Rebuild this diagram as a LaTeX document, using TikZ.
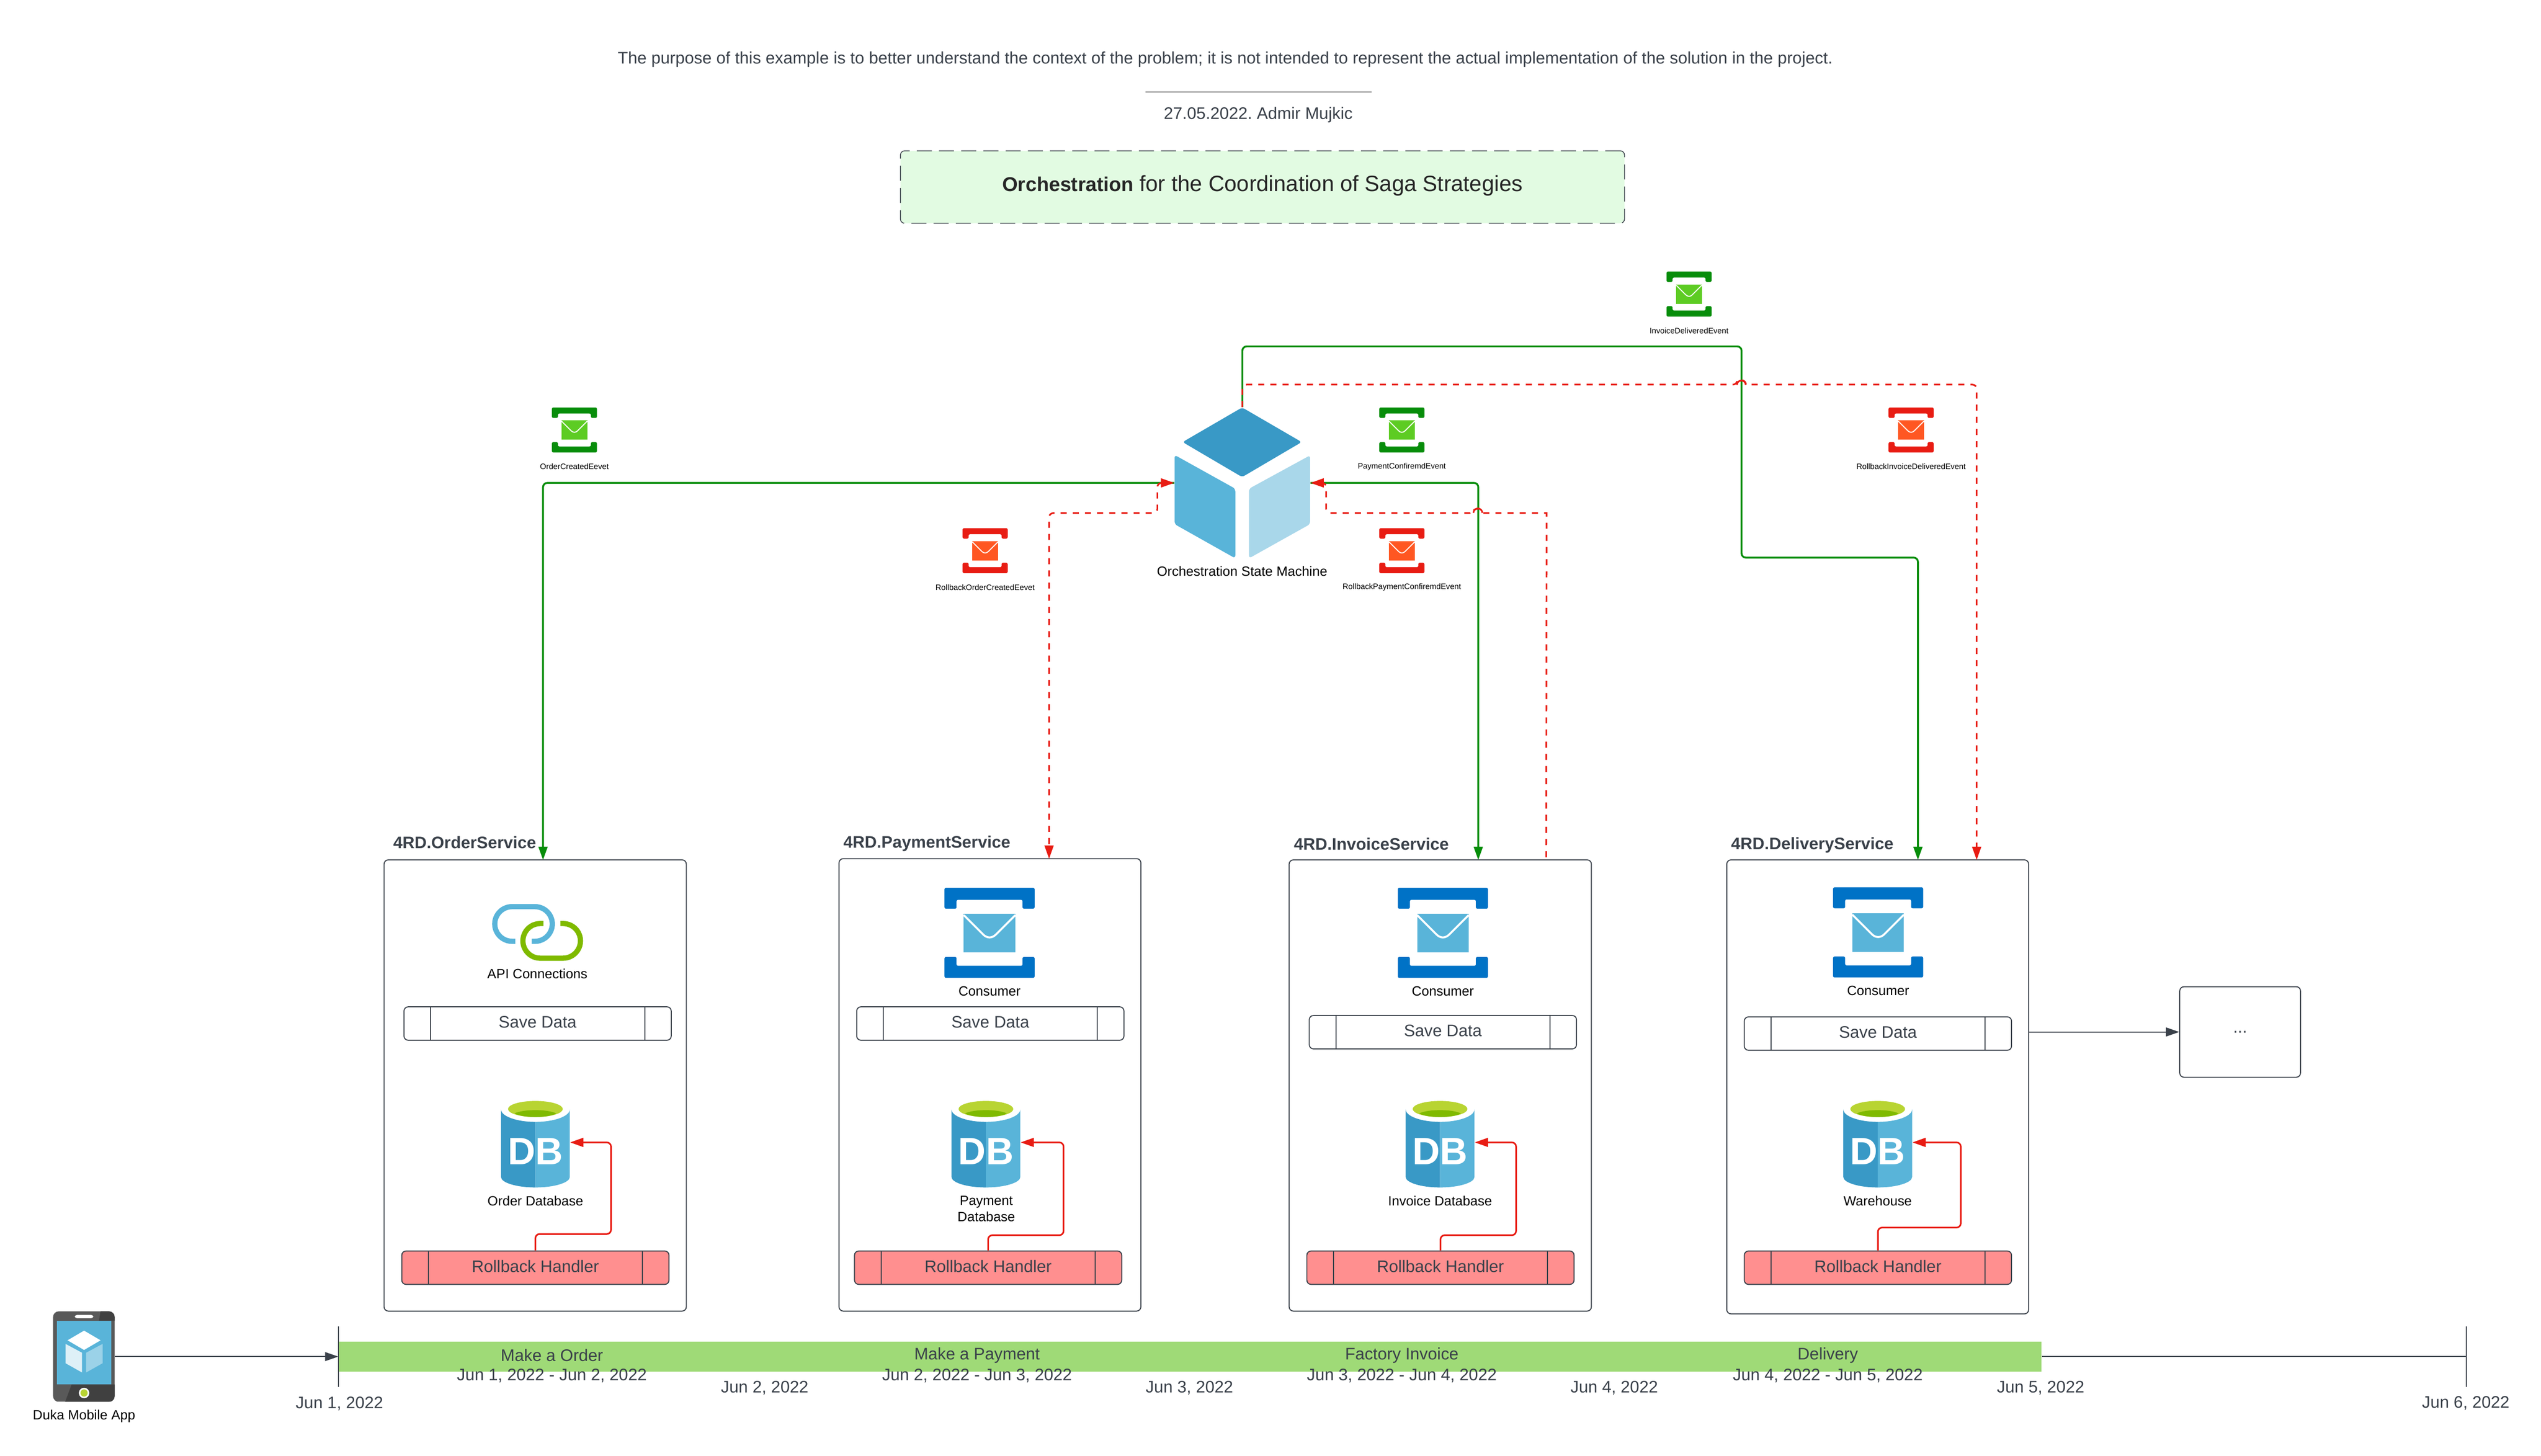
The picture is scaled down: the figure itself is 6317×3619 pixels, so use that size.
\documentclass[tikz,border=0pt]{standalone}
\usepackage{fontspec}
\setmainfont{Liberation Sans}
\usetikzlibrary{arrows.meta}
\frenchspacing
\definecolor{inkdark}{HTML}{3A414A}
\definecolor{flowgreen}{HTML}{078D0A}
\definecolor{flowred}{HTML}{E81C13}
\definecolor{msggreen}{HTML}{5DCC23}
\definecolor{msgorange}{HTML}{FF5722}
\definecolor{msgblue}{HTML}{0072C6}
\definecolor{skyblue}{HTML}{59B4D9}
\definecolor{deepblue}{HTML}{3999C6}
\definecolor{paleblue}{HTML}{A9D7EA}
\definecolor{lime}{HTML}{B8D432}
\definecolor{leaf}{HTML}{7FBA00}
\definecolor{titlefill}{HTML}{E2FBE2}
\definecolor{rollfill}{HTML}{FF8F8F}
\definecolor{barfill}{HTML}{9FDA77}
\tikzset{
    bodytext/.style={inner sep=0pt, text=inkdark, font=\fontsize{11.83}{14}\selectfont},
    headtext/.style={inner sep=0pt, anchor=west, text=inkdark, font=\fontsize{11.8}{14}\selectfont\bfseries},
    iconlabel/.style={inner sep=0pt, align=center, text=black, font=\fontsize{9.5}{11.4}\selectfont},
    eventlabel/.style={inner sep=0pt, text=black, font=\fontsize{5.6}{7}\selectfont},
    svcbox/.style={draw=inkdark, line width=.7pt, rounded corners=3pt},
    stepbox/.style={draw=inkdark, line width=.7pt, rounded corners=3pt, minimum width=6.64cm, minimum height=.83cm,
        inner sep=0pt, text=inkdark, text depth=2pt, font=\fontsize{11.8}{14}\selectfont,
        path picture={
            \draw[inkdark, line width=.7pt] ([xshift=.66cm]path picture bounding box.north west) -- ([xshift=.66cm]path picture bounding box.south west);
            \draw[inkdark, line width=.7pt] ([xshift=-.66cm]path picture bounding box.north east) -- ([xshift=-.66cm]path picture bounding box.south east);
        }},
    rollbox/.style={stepbox, fill=rollfill},
    flowtip/.tip={Triangle[length=9.4pt,width=6.3pt]},
    greenflow/.style={draw=flowgreen, line width=1.3pt, rounded corners=3pt, -flowtip},
    redflow/.style={draw=flowred, line width=1.15pt, rounded corners=3pt, dash pattern=on 4.3pt off 4.3pt},
    hopline/.style={draw=flowred, line width=1.15pt},
    rollflow/.style={draw=flowred, line width=1.15pt, rounded corners=3pt, -flowtip},
    darkflow/.style={draw=inkdark, line width=.75pt, -flowtip},
}
% envelope between two brackets: x, y, scale, bracket colour, envelope colour
\newcommand{\msgicon}[5]{
    \begin{scope}[shift={(#1,#2)},scale=#3]
        \fill[#4, rounded corners=1pt] (-56,-56) -- (56,-56) -- (56,-30) -- (41,-30) -- (41,-41) -- (-41,-41) -- (-41,-30) -- (-56,-30) -- cycle;
        \fill[#4, rounded corners=1pt] (-56,56) -- (56,56) -- (56,30) -- (41,30) -- (41,41) -- (-41,41) -- (-41,30) -- (-56,30) -- cycle;
        \fill[#5] (-32,-24) rectangle (32,24);
        \draw[white, line width=#3*.7pt] (-32,-22) -- (-8,2) .. controls (-3,7) and (3,7) .. (8,2) -- (32,-22);
    \end{scope}
}
% database barrel: node name, centre x
\newcommand{\dbicon}[2]{
    \node[minimum width=1.71cm, minimum height=2.15cm, inner sep=0pt] (#1) at (#2,2840) {};
    \begin{scope}[shift={(#2,2737)}]
        \fill[deepblue] (-85.5,21) .. controls (-85.5,38) and (-47,52) .. (0,52) -- (0,215) .. controls (-47,215) and (-85.5,203) .. (-85.5,189) -- cycle;
        \fill[skyblue] (85.5,21) .. controls (85.5,38) and (47,52) .. (0,52) -- (0,215) .. controls (47,215) and (85.5,203) .. (85.5,189) -- cycle;
        \fill[lime] (0,20) ellipse [x radius=.68cm, y radius=.2cm];
        \fill[leaf] (-52,31) .. controls (-30,20) and (30,20) .. (52,31) .. controls (30,43) and (-30,43) .. cycle;
        \node[inner sep=0pt, text=white, font=\fontsize{27}{27}\selectfont\bfseries] at (0,126) {DB};
    \end{scope}
}
\begin{document}
\begin{tikzpicture}[x=.01cm, y=-.01cm]
    \useasboundingbox (0,0) rectangle (6317,3619);
    \fill[white] (0,0) rectangle (6317,3619);

    % header
    \node[bodytext] (note) at (3046,148) {The purpose of this example is to better understand the context of the problem; it is not intended to represent the actual implementation of the solution in the project.};
    \draw[gray, line width=.6pt] (2848,229) -- (3410,229);
    \node[bodytext] (signed) at (3128,286) {27.05.2022. Admir Mujkic};
    \node[draw=inkdark, fill=titlefill, line width=.55pt, rounded corners=3pt, dash pattern=on 10.6pt off 5.1pt, minimum width=17.99cm, minimum height=1.8cm, inner sep=0pt, text=black!85, text depth=5pt, font=\fontsize{15.66}{18}\selectfont] (title) at (3138.5,465) {{\fontsize{14.15}{18}\selectfont\bfseries Orchestration} for the Coordination of Saga Strategies};

    % state machine
    \node[minimum width=3.37cm, minimum height=3.75cm, inner sep=0pt] (machine) at (3088.5,1200.5) {};
    \fill[deepblue, rounded corners=2pt] (3088,1013) -- (3236,1099) -- (3088,1186) -- (2940,1099) -- cycle;
    \fill[skyblue, rounded corners=2pt] (2920,1131) -- (3071,1215) -- (3071,1388) -- (2920,1303) -- cycle;
    \fill[paleblue, rounded corners=2pt] (3257,1132) -- (3105,1215) -- (3105,1388) -- (3257,1303) -- cycle;
    \node[iconlabel] (machinetext) at (3088,1420) {Orchestration State Machine};

    % event icons
    \foreach \name/\x/\y/\dark/\light/\txt in {
        invoiceevent/4199/731/flowgreen/msggreen/InvoiceDeliveredEvent,
        orderevent/1428/1069/flowgreen/msggreen/OrderCreatedEevet,
        paymentevent/3485/1069/flowgreen/msggreen/PaymentConfiremdEvent,
        undoinvoice/4751/1069/flowred/msgorange/RollbackInvoiceDeliveredEvent,
        undoorder/2449/1369/flowred/msgorange/RollbackOrderCreatedEevet,
        undopayment/3485/1369/flowred/msgorange/RollbackPaymentConfiremdEvent}
    {
        \msgicon{\x}{\y}{1}{\dark}{\light}
        \node[eventlabel] (\name) at (\x,\y+91) {\txt};
    }

    % services
    \node[svcbox, minimum width=7.51cm, minimum height=11.21cm] (order) at (1330.5,2698.5) {};
    \node[svcbox, minimum width=7.50cm, minimum height=11.24cm] (payment) at (2461,2697) {};
    \node[svcbox, minimum width=7.51cm, minimum height=11.21cm] (invoice) at (3580.5,2698.5) {};
    \node[svcbox, minimum width=7.50cm, minimum height=11.28cm] (delivery) at (4668,2702) {};
    \node[headtext] (orderhead) at (977,2094) {4RD.OrderService};
    \node[headtext] (paymenthead) at (2096,2097) {4RD.PaymentService};
    \node[headtext] (invoicehead) at (3216,2098) {4RD.InvoiceService};
    \node[headtext] (deliveryhead) at (4303,2101) {4RD.DeliveryService};

    % api link
    \draw[skyblue, line width=3.7pt] (1281,2340) -- (1273,2340) arc[start angle=270, end angle=90, radius=.43cm] -- (1330,2254) arc[start angle=90, end angle=-90, radius=.43cm] -- (1322,2340);
    \draw[leaf, line width=3.7pt] (1351,2296) -- (1343,2296) arc[start angle=90, end angle=270, radius=.43cm] -- (1400,2382) arc[start angle=-90, end angle=90, radius=.43cm] -- (1393,2296);
    \node[iconlabel] (apitext) at (1336,2421) {API Connections};

    \msgicon{2460}{2319}{2}{msgblue}{skyblue}
    \msgicon{3587}{2319}{2}{msgblue}{skyblue}
    \msgicon{4669}{2318}{2}{msgblue}{skyblue}
    \node[iconlabel] (paymentmsg) at (2460,2464) {Consumer};
    \node[iconlabel] (invoicemsg) at (3587,2464) {Consumer};
    \node[iconlabel] (deliverymsg) at (4669,2463) {Consumer};

    \node[stepbox] (ordersave) at (1336.5,2544.5) {Save Data};
    \node[stepbox] (paymentsave) at (2462,2544.5) {Save Data};
    \node[stepbox] (invoicesave) at (3587,2566) {Save Data};
    \node[stepbox] (deliverysave) at (4668.5,2569.5) {Save Data};

    \dbicon{orderdb}{1331}
    \dbicon{paymentdb}{2451}
    \dbicon{invoicedb}{3580}
    \dbicon{deliverydb}{4668}
    \node[iconlabel] (orderdbtext) at (1331,2985) {Order Database};
    \node[iconlabel] (paymentdbtext) at (2452,3005) {Payment\\Database};
    \node[iconlabel] (invoicedbtext) at (3580,2985) {Invoice Database};
    \node[iconlabel] (deliverydbtext) at (4668,2985) {Warehouse};

    \node[rollbox] (orderundo) at (1331,3151.5) {Rollback Handler};
    \node[rollbox] (paymentundo) at (2456.5,3151.5) {Rollback Handler};
    \node[rollbox] (invoiceundo) at (3581,3151.5) {Rollback Handler};
    \node[rollbox] (deliveryundo) at (4668.5,3151.5) {Rollback Handler};

    \draw[rollflow] (orderundo.north) -- ++(0,-41) -- ++(188,0) |- (orderdb.east);
    \draw[rollflow] (paymentundo.north) -- ++(0,-38) -- ++(187.5,0) |- (paymentdb.east);
    \draw[rollflow] (invoiceundo.north) -- ++(0,-38) -- ++(188,0) |- (invoicedb.east);
    \draw[rollflow] (deliveryundo.north) -- ++(0,-57) -- ++(206,0) |- (deliverydb.east);

    \node[svcbox, minimum width=3cm, minimum height=2.25cm, inner sep=0pt, text=inkdark, font=\fontsize{11.8}{14}\selectfont] (more) at (5569,2565.5) {...};
    \draw[darkflow] (more.west -| delivery.east) -- (more.west);

    % flows to the services
    \coordinate (orderin) at (1350,2138);
    \coordinate (invoicein) at (3675,2138);
    \coordinate (deliveryin) at (4768,2138);
    \coordinate (paymentback) at (2608,2135);
    \coordinate (invoiceback) at (3844,2138);
    \coordinate (deliveryback) at (4914,2138);
    \coordinate (hopfirst) at (3674,1275);
    \coordinate (hopsecond) at (4329,957);
    \draw[greenflow] (machine.west) -| (orderin);
    \draw[greenflow] (machine.east) -| (invoicein);
    \draw[greenflow] (machine.north) -- ++(0,-151) -- ++(1241,0) -- ++(0,525) -| (deliveryin);
    \draw[redflow, flowtip-flowtip] (machine.west) -- ++(-42,0) -- ++(0,75) -| (paymentback);
    \draw[redflow, flowtip-] (machine.east) -- ++(39,0) -- ++(0,75) -- ++(367,0) [sharp corners] arc[start angle=180, end angle=0, radius=.11cm] -- ++(159,0) -- (invoiceback);
    \draw[redflow, -flowtip] (machine.north) -- ++(0,-56) -- ++(1230,0) [sharp corners] arc[start angle=180, end angle=0, radius=.11cm] [rounded corners=3pt] -| (deliveryback);
    \draw[hopline] (hopfirst) ++(-11,0) arc[start angle=180, end angle=0, radius=.11cm];
    \draw[hopline] (hopsecond) ++(-11,0) arc[start angle=180, end angle=0, radius=.11cm];

    % timeline
    \node[minimum width=1.53cm, minimum height=2.25cm, inner sep=0pt] (phone) at (208.5,3372.5) {};
    \begin{scope}
        \clip[rounded corners=4pt] (132,3260) rectangle (285,3485);
        \fill[black!65] (132,3260) rectangle (285,3485);
        \fill[black!75] (178,3442) -- (285,3442) -- (285,3485) -- (162,3485) -- cycle;
        \fill[black!75] (250,3260) -- (285,3260) -- (285,3283) -- (246,3283) -- cycle;
    \end{scope}
    \fill[skyblue] (141,3283) rectangle (277,3442);
    \fill[white, rounded corners=1.5pt] (186,3269) rectangle (232,3277);
    \fill[white] (209,3308) -- (250,3332) -- (209,3356) -- (168,3332) -- cycle;
    \fill[white!80!skyblue] (163,3341) -- (204,3363) -- (204,3412) -- (163,3389) -- cycle;
    \fill[white!40!skyblue] (255,3341) -- (214,3363) -- (214,3412) -- (255,3389) -- cycle;
    \fill[white] (209,3463) circle [radius=.13cm];
    \fill[lime] (209,3463) circle [radius=.09cm];
    \node[iconlabel] (phonetext) at (209,3521) {Duka Mobile App};

    \node[fill=barfill, minimum width=42.31cm, minimum height=.75cm, inner sep=0pt] (bar) at (2958.5,3372.5) {};
    \coordinate (endtick) at (6131,3372.5);
    \draw[darkflow] (phone.east) -- (bar.west);
    \draw[inkdark, line width=.75pt] (bar.east) -- (endtick);
    \draw[inkdark, line width=.7pt] (bar.west) ++(0,-75) -- ++(0,150);
    \draw[inkdark, line width=.7pt] (endtick) ++(0,-75) -- ++(0,150);
    \foreach \x/\txt/\a/\b in {1372/Make a Order/1/2, 2429/Make a Payment/2/3, 3485/Factory Invoice/3/4, 4544/Delivery/4/5}
    {
        \node[bodytext] (phase\a) at (\x,3369) {\txt};
        \node[bodytext] (span\a) at (\x,3420) {Jun \a, 2022 - Jun \b, 2022};
    }
    \foreach \x/\y/\d in {844/3489/1, 1901/3450/2, 2957/3450/3, 4013/3450/4, 5073/3451/5, 6130/3488/6}
        \node[bodytext] (date\d) at (\x,\y) {Jun \d, 2022};
\end{tikzpicture}
\end{document}
